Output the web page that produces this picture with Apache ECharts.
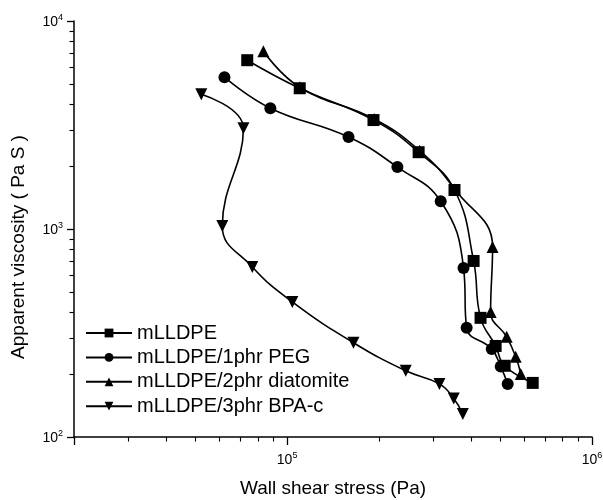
<!DOCTYPE html>
<html>
<head>
<meta charset="utf-8">
<script src="https://cdn.jsdelivr.net/npm/echarts@6/dist/echarts.min.js"></script>
<style>
  html, body { margin: 0; padding: 0; background: #fff; }
  #chart { width: 603px; height: 500px; }
</style>
</head>
<body>
<div id="chart"></div>
<script>
// Wall shear stress (Pa) and apparent viscosity (Pa S) for each compound
const seriesNames = [
  'mLLDPE',
  'mLLDPE/1phr PEG',
  'mLLDPE/2phr diatomite',
  'mLLDPE/3phr BPA-c'
];

const stressPE  = [7.4e4, 1.10e5, 1.92e5, 2.70e5, 3.54e5, 4.09e5, 4.31e5, 4.83e5, 5.17e5, 6.39e5];
const viscPE    = [6480, 4750, 3340, 2340, 1540, 702, 374, 274, 220, 182];

const stressPEG = [6.23e4, 8.81e4, 1.59e5, 2.30e5, 3.19e5, 3.79e5, 3.88e5, 4.69e5, 5.02e5, 5.29e5];
const viscPEG   = [5370, 3810, 2770, 1985, 1360, 650, 335, 265, 218, 180];

const stressDia = [8.36e4, 1.10e5, 1.93e5, 2.72e5, 3.55e5, 4.72e5, 4.65e5, 5.25e5, 5.62e5, 5.84e5];
const viscDia   = [7150, 4800, 3380, 2380, 1550, 820, 399, 303, 243, 201];

const stressBPA = [5.23e4, 7.19e4, 6.13e4, 7.69e4, 1.04e5, 1.65e5, 2.45e5, 3.16e5, 3.52e5, 3.77e5];
const viscBPA   = [4450, 3050, 1034, 657, 446, 284, 208, 180, 153, 129];

// Axis extents and intermediate (minor) tick values
const xMin = 2e4, xMax = 1e6;
const yMin = 1e2, yMax = 1e4;
const xMinorTicks = [3e4, 4e4, 5e4, 6e4, 7e4, 8e4, 9e4, 2e5, 3e5, 4e5, 5e5, 6e5, 7e5, 8e5, 9e5];
const yMinorTicks = [200, 300, 400, 500, 600, 700, 800, 900, 2000, 3000, 4000, 5000, 6000, 7000, 8000, 9000];

const FONT = '"Liberation Sans", Arial, sans-serif';

function pairs(xs, ys) { return xs.map((x, i) => [x, ys[i]]); }

// "10" with the decade exponent raised
function powLabel(v) {
  return '{b|10}{sup|' + Math.round(Math.log10(v)) + '}';
}
const powRich = {
  b: { fontSize: 14, fontFamily: FONT, color: '#000', verticalAlign: 'bottom', lineHeight: 16 },
  sup: { fontSize: 9, fontFamily: FONT, color: '#000', verticalAlign: 'bottom', lineHeight: 16, padding: [0, 0, 7, 0] }
};

function lineSeries(name, data, symbol, rotate) {
  return {
    name: name,
    type: 'line',
    data: data,
    smooth: 0.45,
    symbol: symbol,
    symbolSize: 12,
    symbolRotate: rotate || 0,
    showAllSymbol: true,
    lineStyle: { color: '#000', width: 1.6 },
    itemStyle: { color: '#000', borderWidth: 0 },
    emphasis: { disabled: true },
    z: 3
  };
}

const chart = echarts.init(document.getElementById('chart'), null, { renderer: 'canvas' });

chart.setOption({
  animation: false,
  backgroundColor: '#fff',
  textStyle: { fontFamily: FONT, color: '#000' },
  grid: { left: 74, right: 11, top: 21, bottom: 63, containLabel: false, outerBoundsMode: 'none' },
  legend: {
    orient: 'vertical',
    left: 80,
    top: 318,
    itemWidth: 46,
    itemHeight: 11,
    itemGap: 4.4,
    align: 'left',
    data: seriesNames,
    textStyle: { fontFamily: FONT, fontSize: 20, color: '#000', lineHeight: 19 },
    inactiveColor: '#000'
  },
  xAxis: {
    type: 'log', logBase: 10, min: xMin, max: xMax,
    name: 'Wall shear stress (Pa)',
    nameLocation: 'middle', nameGap: 42,
    nameTextStyle: { fontFamily: FONT, fontSize: 19, color: '#000' },
    axisLine: { show: true, onZero: false, lineStyle: { color: '#000', width: 1.5 } },
    axisTick: { show: true, inside: false, length: 8, lineStyle: { color: '#000', width: 1.3 } },
    axisLabel: {
      show: true, margin: 14,
      formatter: function (v) { return (v === 1e5 || v === 1e6) ? powLabel(v) : ''; },
      rich: powRich
    },
    splitLine: { show: false }
  },
  yAxis: {
    type: 'log', logBase: 10, min: yMin, max: yMax,
    name: 'Apparent viscosity ( Pa S )',
    nameLocation: 'middle', nameGap: 46,
    nameTextStyle: { fontFamily: FONT, fontSize: 19, color: '#000', padding: [0, 36, 0, 0] },
    axisLine: { show: true, onZero: false, lineStyle: { color: '#000', width: 1.5 } },
    axisTick: { show: true, inside: false, length: 7, lineStyle: { color: '#000', width: 1.3 } },
    axisLabel: { show: true, margin: 11, formatter: powLabel, rich: powRich },
    splitLine: { show: false }
  },
  series: [
    lineSeries(seriesNames[0], pairs(stressPE, viscPE), 'rect'),
    lineSeries(seriesNames[1], pairs(stressPEG, viscPEG), 'circle'),
    lineSeries(seriesNames[2], pairs(stressDia, viscDia), 'triangle'),
    lineSeries(seriesNames[3], pairs(stressBPA, viscBPA), 'triangle', 180)
  ]
});

// Short intermediate ticks on the log axes, placed with the chart's own scales
const tickStyle = { stroke: '#000', lineWidth: 1.1 };
const axisY0 = chart.convertToPixel({ yAxisIndex: 0 }, yMin);
const axisX0 = chart.convertToPixel({ xAxisIndex: 0 }, xMin);
const minorTickEls = [];
xMinorTicks.forEach(v => {
  const px = Math.round(chart.convertToPixel({ xAxisIndex: 0 }, v)) + 0.5;
  minorTickEls.push({ type: 'line', silent: true, z: 5,
    shape: { x1: px, y1: axisY0, x2: px, y2: axisY0 + 4.5 }, style: tickStyle });
});
yMinorTicks.forEach(v => {
  const py = Math.round(chart.convertToPixel({ yAxisIndex: 0 }, v)) + 0.5;
  minorTickEls.push({ type: 'line', silent: true, z: 5,
    shape: { x1: axisX0, y1: py, x2: axisX0 - 4.5, y2: py }, style: tickStyle });
});
chart.setOption({ graphic: minorTickEls });
</script>
</body>
</html>
